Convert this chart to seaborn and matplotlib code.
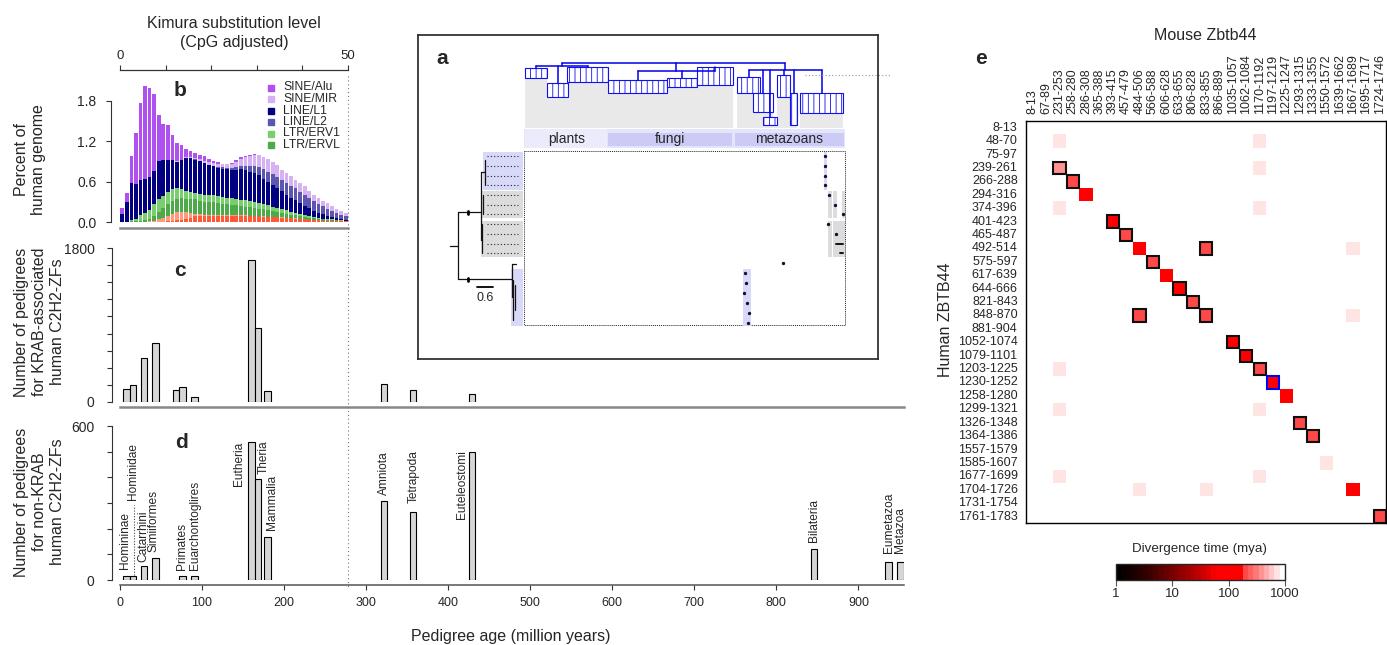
import numpy as np
import pandas as pd
import matplotlib
matplotlib.use("Agg")
import matplotlib.pyplot as plt
import seaborn as sns
from matplotlib.colors import LogNorm, LinearSegmentedColormap
from matplotlib.patches import Rectangle
from matplotlib.lines import Line2D
import matplotlib.cm as cm

# ---------------- panel b: repeat landscape (% of human genome per Kimura bin)
kimura_bins = list(range(50))
alu = [0.08, 0.14, 0.39, 0.765, 1.135, 1.385, 1.335, 1.135, 0.68, 0.54,
       0.51, 0.365, 0.27, 0.22, 0.13, 0.085, 0.08, 0.065, 0.075, 0.045,
       0.03, 0.02, 0.005, 0.0, 0.015, 0.03, 0.03, 0.02, 0.015, 0.01,
       0.005, 0, 0, 0, 0, 0, 0, 0, 0, 0, 0, 0, 0, 0, 0, 0, 0, 0, 0, 0]
mir = [0, 0, 0, 0, 0, 0, 0, 0, 0, 0,
       0.005, 0.005, 0.01, 0.01, 0.01, 0.015, 0.02, 0.025, 0.03, 0.035,
       0.04, 0.045, 0.05, 0.05, 0.06, 0.07, 0.1, 0.13, 0.155, 0.17,
       0.175, 0.18, 0.18, 0.175, 0.17, 0.155, 0.145, 0.14, 0.13, 0.13,
       0.12, 0.11, 0.1, 0.09, 0.08, 0.08, 0.07, 0.06, 0.05, 0.04]
l1 = [0.12, 0.29, 0.56, 0.51, 0.52, 0.5, 0.48, 0.5, 0.57, 0.53,
      0.47, 0.43, 0.39, 0.42, 0.48, 0.5, 0.49, 0.49, 0.475, 0.45,
      0.43, 0.42, 0.42, 0.42, 0.42, 0.435, 0.45, 0.45, 0.44, 0.44,
      0.42, 0.38, 0.35, 0.32, 0.285, 0.265, 0.23, 0.21, 0.195, 0.16,
      0.135, 0.12, 0.09, 0.075, 0.065, 0.045, 0.03, 0.025, 0.02, 0.015]
l2 = [0, 0, 0, 0, 0, 0, 0, 0, 0, 0,
      0, 0, 0, 0, 0.005, 0.005, 0.005, 0.005, 0.005, 0.005,
      0.01, 0.015, 0.02, 0.025, 0.03, 0.04, 0.05, 0.06, 0.08, 0.1,
      0.12, 0.14, 0.15, 0.16, 0.17, 0.17, 0.18, 0.18, 0.17, 0.17,
      0.17, 0.15, 0.14, 0.13, 0.12, 0.11, 0.1, 0.08, 0.065, 0.055]
erv1 = [0.005, 0.01, 0.015, 0.04, 0.09, 0.1, 0.13, 0.17, 0.18, 0.18,
        0.19, 0.18, 0.16, 0.14, 0.12, 0.11, 0.1, 0.1, 0.1, 0.1,
        0.1, 0.1, 0.1, 0.1, 0.1, 0.09, 0.09, 0.09, 0.08, 0.08,
        0.08, 0.07, 0.07, 0.06, 0.06, 0.05, 0.05, 0.04, 0.035, 0.03,
        0.025, 0.02, 0.02, 0.015, 0.012, 0.01, 0.01, 0.008, 0.006, 0.005]
ervl = [0, 0, 0.005, 0.01, 0.02, 0.03, 0.04, 0.07, 0.11, 0.14,
        0.17, 0.19, 0.2, 0.2, 0.2, 0.2, 0.21, 0.2, 0.19, 0.19,
        0.19, 0.18, 0.17, 0.16, 0.15, 0.15, 0.14, 0.13, 0.13, 0.12,
        0.11, 0.11, 0.1, 0.09, 0.08, 0.07, 0.06, 0.05, 0.045, 0.04,
        0.035, 0.03, 0.025, 0.02, 0.018, 0.015, 0.012, 0.01, 0.008, 0.006]
malr = [0, 0, 0, 0, 0.005, 0.01, 0.015, 0.02, 0.04, 0.06,
        0.08, 0.1, 0.12, 0.12, 0.1, 0.07, 0.04, 0.02, 0.01, 0.01,
        0.01, 0.008, 0.006, 0.005, 0.005, 0.004, 0.004, 0.004, 0.004, 0.004,
        0.004, 0.003, 0.003, 0.003, 0.003, 0.003, 0.002, 0.002, 0.002, 0.002,
        0.002, 0, 0, 0, 0, 0, 0, 0, 0, 0]
dna = [0, 0, 0.01, 0.005, 0, 0, 0, 0.005, 0.01, 0.01,
       0.015, 0.02, 0.03, 0.04, 0.05, 0.07, 0.09, 0.1, 0.1, 0.1,
       0.1, 0.1, 0.1, 0.1, 0.1, 0.1, 0.1, 0.1, 0.095, 0.09,
       0.09, 0.085, 0.08, 0.08, 0.075, 0.07, 0.065, 0.06, 0.055, 0.05,
       0.045, 0.04, 0.035, 0.03, 0.025, 0.022, 0.02, 0.018, 0.015, 0.012]
te_families = ["SINE/Alu", "SINE/MIR", "LINE/L2", "LINE/L1",
               "LTR/ERV1", "LTR/ERVL", "LTR/MaLR", "DNA"]      # top -> bottom of stack
te_values = [alu, mir, l2, l1, erv1, ervl, malr, dna]
legend_families = ["SINE/Alu", "SINE/MIR", "LINE/L1", "LINE/L2", "LTR/ERV1", "LTR/ERVL"]

# ---------------- panel c / d: pedigree ages
krab_age = [8, 16, 29, 43, 68, 76, 91, 160, 168, 180, 322, 357, 429]
krab_count = [145, 192, 509, 685, 134, 176, 52, 1663, 861, 129, 208, 137, 87]

taxa = ["Homininae", "Hominidae", "Catarrhini", "Simiiformes", "Primates",
        "Euarchontoglires", "Eutheria", "Theria", "Mammalia", "Amniota",
        "Tetrapoda", "Euteleostomi", "Bilateria", "Eumetazoa", "Metazoa"]
nonkrab_age = [8, 16, 29, 43, 76, 91, 160, 168, 180, 322, 357, 429, 846, 937, 951]
nonkrab_count = [15, 15, 55, 87, 16, 15, 536, 392, 167, 306, 266, 500, 121, 69, 69]

# ---------------- panel e: Zbtb44 zinc-finger divergence
human_zf = ["8-13", "48-70", "75-97", "239-261", "266-288", "294-316", "374-396",
            "401-423", "465-487", "492-514", "575-597", "617-639", "644-666",
            "821-843", "848-870", "881-904", "1052-1074", "1079-1101", "1203-1225",
            "1230-1252", "1258-1280", "1299-1321", "1326-1348", "1364-1386",
            "1557-1579", "1585-1607", "1677-1699", "1704-1726", "1731-1754", "1761-1783"]
mouse_zf = ["8-13", "67-89", "231-253", "258-280", "286-308", "365-388", "393-415",
            "457-479", "484-506", "566-588", "606-628", "633-655", "806-828",
            "833-855", "866-889", "1035-1057", "1062-1084", "1170-1192", "1197-1219",
            "1225-1247", "1293-1315", "1333-1355", "1550-1572", "1639-1662",
            "1667-1689", "1695-1717", "1724-1746"]
cell_human = ["48-70", "48-70", "239-261", "239-261", "266-288", "294-316", "374-396",
              "374-396", "401-423", "465-487", "492-514", "492-514", "492-514",
              "575-597", "617-639", "644-666", "821-843", "848-870", "848-870",
              "848-870", "1052-1074", "1079-1101", "1203-1225", "1203-1225",
              "1230-1252", "1258-1280", "1299-1321", "1299-1321", "1326-1348",
              "1364-1386", "1585-1607", "1677-1699", "1677-1699", "1704-1726",
              "1704-1726", "1704-1726", "1761-1783"]
cell_mouse = ["231-253", "1170-1192", "231-253", "1170-1192", "258-280", "286-308", "231-253",
              "1170-1192", "393-415", "457-479", "484-506", "833-855", "1667-1689",
              "566-588", "606-628", "633-655", "806-828", "484-506", "833-855",
              "1667-1689", "1035-1057", "1062-1084", "231-253", "1170-1192",
              "1197-1219", "1225-1247", "231-253", "1170-1192", "1293-1315",
              "1333-1355", "1550-1572", "231-253", "1170-1192", "484-506",
              "833-855", "1667-1689", "1724-1746"]
cell_mya = [800, 800, 350, 800, 200, 90, 800,
            800, 85, 200, 90, 200, 800,
            200, 90, 80, 200, 200, 200,
            800, 80, 85, 800, 200,
            90, 90, 800, 800, 200,
            200, 800, 800, 800, 800,
            800, 90, 200]
ortholog_human = ["239-261", "266-288", "401-423", "465-487", "492-514", "575-597",
                  "644-666", "821-843", "848-870", "848-870", "1052-1074", "1079-1101",
                  "1203-1225", "1230-1252", "1326-1348", "1364-1386", "1761-1783"]
ortholog_mouse = ["231-253", "258-280", "393-415", "457-479", "833-855", "566-588",
                  "633-655", "806-828", "484-506", "833-855", "1035-1057", "1062-1084",
                  "1170-1192", "1197-1219", "1293-1315", "1333-1355", "1724-1746"]
ortholog_kind = ["k"] * 13 + ["b"] + ["k"] * 3

# ---------------- panel a: schematic tree (schematic units, pixels of the panel)
clade_x0 = [0, 22, 42, 83, 142, 172, 212, 228, 238, 252, 265, 275]
clade_x1 = [22, 43, 83, 142, 172, 208, 235, 248, 252, 265, 272, 318]
clade_top = [5, 20, 4, 17, 15, 4, 14, 30, 54, 12, 30, 30]
clade_bot = [15, 34, 19, 30, 24, 22, 30, 49, 62, 34, 62, 50]
kingdom_members = [[0, 1, 2], [3, 4, 5], [6, 7, 8, 9, 10, 11]]
kingdom_bar_y = [3, 8, 7]
kingdom_names = ["plants", "fungi", "metazoans"]
kingdom_x0 = [0, 83.3, 210]
kingdom_x1 = [82.4, 206.7, 319]
leaf_rows = [156, 166, 175.7, 185.3, 195, 204.7, 214.3, 224.3, 234, 243.7, 253.3]
hit_x = [825, 825, 825, 825, 829.3, 835.3, 843.3, 828.3, 835.7, 745, 746, 744, 747, 749.3, 748.3, 783.3]
hit_y = [156, 166, 175.7, 185.3, 195, 204.7, 214.3, 224.3, 234, 273.3, 283.3, 292.7, 302.7, 312.7, 322.7, 263.3]

# ---------------- figure
sns.set_style("ticks")
plt.rcParams['font.family'] = ['Liberation Sans', 'DejaVu Sans']
plt.rcParams['hatch.linewidth'] = 0.6
W, H = 1387, 645
fig = plt.figure(figsize=(W / 100, H / 100), dpi=100)


def rect(l, t, r, b):
    return [l / W, 1 - b / H, (r - l) / W, (b - t) / H]


def ftext(x, y, s, **kw):
    fig.text(x / W, 1 - y / H, s, **kw)


palette = {"SINE/Alu": "#b050ee", "SINE/MIR": "#d6b2f2", "LINE/L1": "#000080",
           "LINE/L2": "#5c56ae", "LTR/ERV1": "#78d06c", "LTR/ERVL": "#4caa48",
           "LTR/MaLR": "#ff9a7c", "DNA": "#ff5a36"}
AX_FS = 11.5
TICK_FS = 10

# ---- panel b
axB = fig.add_axes(rect(111, 70, 348, 222.3))
te_df = pd.DataFrame({
    "kimura": np.tile(np.array(kimura_bins) + 0.5, len(te_families)),
    "family": np.repeat(te_families, len(kimura_bins)),
    "pct": np.concatenate([np.array(v, dtype=float) for v in te_values]),
})
sns.histplot(data=te_df, x="kimura", weights="pct", hue="family", hue_order=te_families,
             palette=palette, multiple="stack", bins=50, binrange=(0, 50), shrink=0.8,
             linewidth=0, alpha=1, legend=False, ax=axB)
axB.set_xlim(-1.97, 50)
axB.set_ylim(0, 2.26)
axB.set_xlabel("")
axB.set_ylabel("")
axB.xaxis.tick_top()
axB.set_xticks([0, 10, 20, 30, 40, 50])
axB.set_xticklabels(["0", "", "", "", "", "50"])
axB.set_yticks([0, 0.6, 1.2, 1.8])
axB.set_yticklabels(["0.0", "0.6", "1.2", "1.8"])
axB.tick_params(axis="x", top=True, bottom=False, direction="out", length=3.5,
                width=0.8, color="#333333", labelsize=9.5, pad=2)
axB.tick_params(axis="y", direction="out", length=3.5, width=0.8, color="#333333",
                labelsize=TICK_FS, pad=7)
axB.spines["right"].set_visible(False)
axB.spines["top"].set_bounds(0, 50)
axB.spines["top"].set_color("#333333")
axB.spines["top"].set_linewidth(0.9)
axB.spines["left"].set_bounds(0, 1.8)
axB.spines["left"].set_color("#333333")
axB.spines["left"].set_linewidth(0.8)
axB.spines["bottom"].set_position(("outward", 4))
axB.spines["bottom"].set_bounds(0, 50)
axB.spines["bottom"].set_color("#888888")
axB.spines["bottom"].set_linewidth(1.8)
axB.patch.set_alpha(0)

# legend of panel b
for i, fam in enumerate(legend_families):
    yy = 87.5 + i * 11.5
    fig.patches.append(Rectangle(((267.5) / W, 1 - (yy + 3) / H), 6 / W, 6 / H,
                                 transform=fig.transFigure, color=palette[fam]))
    ftext(283, yy, fam, fontsize=8.7, va="center", ha="left")

# ---- panel c
axC = fig.add_axes(rect(112, 245, 903.5, 401.7))
sns.barplot(x=krab_age, y=krab_count, native_scale=True, orient="x", width=1.0,
            color="#d6d6d6", saturation=1, edgecolor="black", linewidth=0.8,
            errorbar=None, ax=axC)
axC.set_xlim(-9.75, 955)
axC.set_ylim(0, 1839)
axC.set_yticks(list(range(0, 1801, 200)))
axC.set_yticklabels(["0"] + [""] * 8 + ["1800"])
axC.set_xticks([])
axC.tick_params(axis="y", direction="out", length=3.5, width=0.8, color="#333333",
                labelsize=TICK_FS, pad=9)
axC.spines["right"].set_visible(False)
axC.spines["top"].set_visible(False)
axC.spines["left"].set_bounds(0, 1800)
axC.spines["left"].set_color("#333333")
axC.spines["left"].set_linewidth(0.8)
axC.spines["bottom"].set_position(("outward", 3.6))
axC.spines["bottom"].set_bounds(0, 955)
axC.spines["bottom"].set_color("#888888")
axC.spines["bottom"].set_linewidth(1.8)
axC.patch.set_alpha(0)

# ---- panel d
axD = fig.add_axes(rect(112, 420, 903.5, 580))
sns.barplot(x=nonkrab_age, y=nonkrab_count, native_scale=True, orient="x", width=1.0,
            color="#d6d6d6", saturation=1, edgecolor="black", linewidth=0.8,
            errorbar=None, ax=axD)
axD.set_xlim(-9.75, 955)
axD.set_ylim(0, 623.4)
axD.set_yticks(list(range(0, 601, 100)))
axD.set_yticklabels(["0"] + [""] * 5 + ["600"])
axD.set_xticks(list(range(0, 901, 100)))
axD.set_xticklabels([str(v) for v in range(0, 901, 100)])
axD.tick_params(axis="y", direction="out", length=3.5, width=0.8, color="#333333",
                labelsize=TICK_FS, pad=9)
axD.tick_params(axis="x", direction="out", length=3.5, width=0.8, color="#333333",
                labelsize=9, pad=5)
axD.spines["right"].set_visible(False)
axD.spines["top"].set_visible(False)
axD.spines["left"].set_bounds(0, 600)
axD.spines["left"].set_color("#333333")
axD.spines["left"].set_linewidth(0.8)
axD.spines["bottom"].set_position(("outward", 3.6))
axD.spines["bottom"].set_bounds(0, 955)
axD.spines["bottom"].set_color("#555555")
axD.spines["bottom"].set_linewidth(1.1)
axD.patch.set_alpha(0)
axD.set_xlabel("")
axD.set_ylabel("")
axC.set_xlabel("")
axC.set_ylabel("")

label_dx = [-2, 0, -0.6, -1.6, -0.8, 0, -14.6, 6.7, 5, 0, 0.5, -12.5, 0, 0, 0]
label_dy = [28, 297, 15, 22, 23, 24, 2, 153, 28, 25, 34, 6, 27, 36, 36]
label_va = ["bottom"] * 6 + ["top", "top", "bottom", "bottom", "bottom", "top",
                             "bottom", "bottom", "bottom"]
for name, a, c, dx, dy, va in zip(taxa, nonkrab_age, nonkrab_count, label_dx, label_dy, label_va):
    axD.text(a + dx, c + dy, name, rotation=90, ha="center", va=va, fontsize=8.6)
axD.plot([17.4, 17.4], [20, 292], ls=(0, (1, 1.5)), color="#444444", lw=0.8)

# ---- panel a (schematic inset)
axA = fig.add_axes(rect(418, 35, 878, 359))
axA.set_xlim(418, 878)
axA.set_ylim(359, 35)
axA.set_xticks([])
axA.set_yticks([])
for sp in axA.spines.values():
    sp.set_color("#333333")
    sp.set_linewidth(1.3)
axA.set_facecolor("white")
ox, oy = 525, 63
for x0, x1, t, b in zip(clade_x0, clade_x1, clade_top, clade_bot):
    axA.add_patch(Rectangle((ox + x0, oy + b), x1 - x0, 65 - b, fc="#e9e9e9", ec="none"))
for x0, x1, t, b in zip(clade_x0, clade_x1, clade_top, clade_bot):
    axA.add_patch(Rectangle((ox + x0, oy + t), x1 - x0, b - t, fc="white", ec="#1010f0",
                            hatch="|||", lw=0.8))
kcent = []
for mem, by in zip(kingdom_members, kingdom_bar_y):
    cx = [(clade_x0[m] + clade_x1[m]) / 2 for m in mem]
    axA.plot([ox + min(cx), ox + max(cx)], [oy + by, oy + by], color="#0000e6", lw=1.1)
    for m, x in zip(mem, cx):
        axA.plot([ox + x, ox + x], [oy + by, oy + clade_top[m]], color="#0000e6", lw=1.1)
    kcent.append((min(cx) + max(cx)) / 2)
axA.plot([ox + kcent[0], ox + kcent[-1]], [oy, oy], color="#0000e6", lw=1.1)
for kc, by in zip(kcent, kingdom_bar_y):
    axA.plot([ox + kc, ox + kc], [oy, oy + by], color="#0000e6", lw=1.1)
axA.add_patch(Rectangle((524.3, 129.3), 320.7, 19, fc="#e4e4fa", ec="none"))
for i, (name, k0, k1) in enumerate(zip(kingdom_names, kingdom_x0, kingdom_x1)):
    if i == 0:
        axA.add_patch(Rectangle((ox + k0, 129.3), k1 - k0, 19, fc="#ebebfc", ec="none"))
    else:
        axA.add_patch(Rectangle((ox + k0, 133.3), k1 - k0, 12.4, fc="#cbcbf6", ec="none"))
    axA.text(ox + (k0 + k1) / 2, 138.8, name, ha="center", va="center", fontsize=10)
# lower part of panel a
axA.add_patch(Rectangle((524.3, 150.7), 320.7, 174.3, fill=False, ls=(0, (1, 1)), lw=0.7, ec="#222222"))
axA.add_patch(Rectangle((483.3, 151.7), 40, 38.3, fc="#d8d8f8", ec="none"))
axA.add_patch(Rectangle((481.7, 191), 41.6, 27.3, fc="#dcdcdc", ec="none"))
axA.add_patch(Rectangle((481, 220.7), 42.3, 36, fc="#dcdcdc", ec="none"))
axA.add_patch(Rectangle((511, 269.3), 12.3, 56.7, fc="#d8d8f8", ec="none"))
for yy in leaf_rows:
    axA.plot([487, 518], [yy, yy], ls=(0, (1, 2)), color="#222222", lw=0.8)
tree_lines = [((450, 458.3), (246, 246)), ((458.3, 458.3), (212.3, 279.3)),
              ((458.3, 481), (212.3, 212.3)), ((481, 481), (172, 240)),
              ((481, 485), (172, 172)), ((485, 485), (160, 185)),
              ((483, 483), (195, 214)), ((481, 482), (240, 240)), ((482, 482), (224, 253)),
              ((458.3, 511.7), (279.3, 279.3)), ((511.7, 511.7), (264, 297)),
              ((511.7, 516), (264, 264)), ((513, 513), (280, 320)), ((515, 515), (285, 310))]
for xs, ys in tree_lines:
    axA.plot(xs, ys, color="#111111", lw=0.9)
axA.plot([468, 468], [210.5, 214], color="black", lw=2)
axA.plot([468, 468], [277.5, 281], color="black", lw=2)
axA.plot([476.7, 492.7], [286.7, 286.7], color="black", lw=1.3)
axA.text(485, 298, "0.6", ha="center", va="center", fontsize=9)
axA.add_patch(Rectangle((823.7, 151.7), 3.3, 38.3, fc="#d8d8f8", ec="none"))
axA.add_patch(Rectangle((827.7, 191), 4, 27.3, fc="#dcdcdc", ec="none"))
axA.add_patch(Rectangle((833.3, 191), 3.4, 27.3, fc="#dcdcdc", ec="none"))
axA.add_patch(Rectangle((841.7, 191), 3.3, 27.3, fc="#dcdcdc", ec="none"))
axA.add_patch(Rectangle((827.7, 220.7), 4, 36, fc="#dcdcdc", ec="none"))
axA.add_patch(Rectangle((833, 220.7), 12, 36, fc="#dcdcdc", ec="none"))
axA.add_patch(Rectangle((743.3, 269.3), 7.4, 56.7, fc="#d8d8f8", ec="none"))
axA.scatter(hit_x, hit_y, s=2, color="#111133", zorder=5)
axA.plot([835.7, 843.3], [243.7, 243.7], color="#111111", lw=1.4)
axA.plot([840, 843.3], [253.3, 253.3], color="#111111", lw=1.4)
fig.add_artist(Line2D([805 / W, 890 / W], [1 - 75 / H, 1 - 75 / H], transform=fig.transFigure,
                      ls=(0, (1, 2)), color="#999999", lw=0.8))

# dotted line tying Kimura 50 to the age axis
fig.add_artist(Line2D([348 / W, 348 / W], [1 - 76 / H, 1 - 588 / H], transform=fig.transFigure,
                      ls=(0, (1, 2.5)), color="#777777", lw=0.8))

# ---- panel e heatmap
anchors = [(0.0, "#000000"), (0.15, "#2a0000"), (0.33, "#780000"), (0.5, "#c40000"),
           (0.6, "#ff0000"), (0.745, "#ff0000"), (0.77, "#ff4545"), (0.85, "#ff8080"),
           (0.93, "#ffc4c4"), (1.0, "#ffffff")]
cmap = LinearSegmentedColormap.from_list("div", anchors, N=32)
norm = LogNorm(1, 1000)
mat = pd.DataFrame(np.nan, index=human_zf, columns=mouse_zf)
for r, c, v in zip(cell_human, cell_mouse, cell_mya):
    mat.loc[r, c] = v
axE = fig.add_axes(rect(1026, 121, 1386.5, 523.3))
sns.heatmap(mat, ax=axE, cmap=cmap, norm=norm, cbar=False,
            xticklabels=mouse_zf, yticklabels=human_zf)
axE.xaxis.tick_top()
axE.tick_params(axis="x", top=True, bottom=False, labeltop=True, labelbottom=False,
                length=0, pad=5, labelsize=9, labelrotation=90)
axE.tick_params(axis="y", length=0, pad=6, labelsize=9, labelrotation=0)
axE.set_xlabel("")
axE.set_ylabel("")
for sp in axE.spines.values():
    sp.set_visible(True)
    sp.set_color("black")
    sp.set_linewidth(1.0)
for r, c, k in zip(ortholog_human, ortholog_mouse, ortholog_kind):
    i, j = human_zf.index(r), mouse_zf.index(c)
    axE.add_patch(Rectangle((j + 0.04, i + 0.04), 0.92, 0.92, fill=False,
                            ec=("#101010" if k == "k" else "#0000ff"), lw=1.5, zorder=4))

cax = fig.add_axes(rect(1116, 563.5, 1285, 580))
cb = fig.colorbar(cm.ScalarMappable(norm=norm, cmap=cmap), cax=cax, orientation="horizontal")
cb.set_ticks([1, 10, 100, 1000])
cb.set_ticklabels(["1", "10", "100", "1000"])
cb.minorticks_off()
cb.outline.set_linewidth(1.0)
cax.tick_params(length=4, width=0.8, color="#555555", labelsize=9.5, pad=2)
ftext(1200, 549, "Divergence time (mya)", ha="center", va="center", fontsize=9.6)

# ---- texts
ftext(234, 33, "Kimura substitution level\n(CpG adjusted)", ha="center", va="center",
      fontsize=AX_FS, linespacing=1.25)
ftext(30, 160, "Percent of\nhuman genome", ha="center", va="center", rotation=90,
      fontsize=AX_FS, linespacing=1.25)
ftext(40, 322, "Number of pedigrees\nfor KRAB-associated\nhuman C2H2-ZFs", ha="center",
      va="center", rotation=90, fontsize=AX_FS, linespacing=1.25)
ftext(40, 502, "Number of pedigrees\nfor non-KRAB\nhuman C2H2-ZFs", ha="center",
      va="center", rotation=90, fontsize=AX_FS, linespacing=1.25)
ftext(511, 636, "Pedigree age (million years)", ha="center", va="center", fontsize=AX_FS)
ftext(1205, 35, "Mouse Zbtb44", ha="center", va="center", fontsize=AX_FS)
ftext(946, 320, "Human ZBTB44", ha="center", va="center", rotation=90, fontsize=AX_FS)
for letter, x, y in [("b", 180, 90), ("c", 180, 270), ("d", 181, 443), ("a", 442, 59), ("e", 981, 59)]:
    ftext(x, y, letter, ha="center", va="center", fontsize=15, fontweight="bold")

fig.savefig("out.png", dpi=100)
